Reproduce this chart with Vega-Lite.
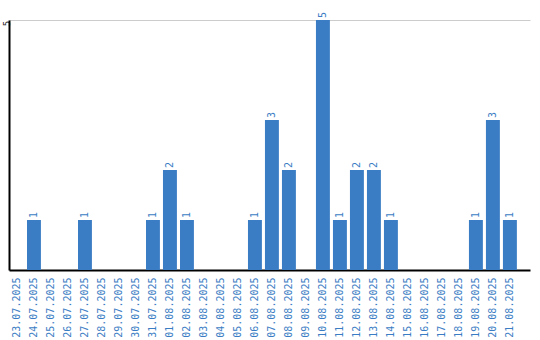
{
  "$schema": "https://vega.github.io/schema/vega-lite/v6.json",
  "width": 521,
  "height": 250,
  "autosize": "none",
  "padding": {"left": 9, "top": 20, "right": 10, "bottom": 70},
  "background": "white",
  "config": {"view": {"stroke": null}},
  "data": {"values": [
    {"d": "23.07.2025", "v": 0},
    {"d": "24.07.2025", "v": 1},
    {"d": "25.07.2025", "v": 0},
    {"d": "26.07.2025", "v": 0},
    {"d": "27.07.2025", "v": 1},
    {"d": "28.07.2025", "v": 0},
    {"d": "29.07.2025", "v": 0},
    {"d": "30.07.2025", "v": 0},
    {"d": "31.07.2025", "v": 1},
    {"d": "01.08.2025", "v": 2},
    {"d": "02.08.2025", "v": 1},
    {"d": "03.08.2025", "v": 0},
    {"d": "04.08.2025", "v": 0},
    {"d": "05.08.2025", "v": 0},
    {"d": "06.08.2025", "v": 1},
    {"d": "07.08.2025", "v": 3},
    {"d": "08.08.2025", "v": 2},
    {"d": "09.08.2025", "v": 0},
    {"d": "10.08.2025", "v": 5},
    {"d": "11.08.2025", "v": 1},
    {"d": "12.08.2025", "v": 2},
    {"d": "13.08.2025", "v": 2},
    {"d": "14.08.2025", "v": 1},
    {"d": "15.08.2025", "v": 0},
    {"d": "16.08.2025", "v": 0},
    {"d": "17.08.2025", "v": 0},
    {"d": "18.08.2025", "v": 0},
    {"d": "19.08.2025", "v": 1},
    {"d": "20.08.2025", "v": 3},
    {"d": "21.08.2025", "v": 1}
  ]},
  "encoding": {
    "x": {
      "field": "d", "type": "nominal", "sort": null,
      "scale": {"paddingInner": 0.18, "paddingOuter": 0.415, "align": 0.07},
      "axis": {
        "title": null, "labelAngle": -90, "labelAlign": "right", "labelBaseline": "middle",
        "labelFont": "DejaVu Sans Mono", "labelFontSize": 10, "labelColor": "#3b7dc4",
        "labelPadding": 7, "ticks": false, "domainColor": "#000000", "domainWidth": 2,
        "grid": false
      }
    },
    "y": {
      "field": "v", "type": "quantitative",
      "scale": {"domain": [0, 5], "nice": false},
      "axis": {
        "title": null, "values": [5], "labelAngle": -90, "labelAlign": "center", "labelBaseline": "middle",
        "labelFont": "DejaVu Sans Mono", "labelFontSize": 9, "labelColor": "#222222",
        "labelPadding": 3, "labelOffset": 3, "labelBound": false, "ticks": false, "domainColor": "#000000", "domainWidth": 2,
        "grid": true, "gridColor": "#cccccc", "gridWidth": 1
      }
    }
  },
  "layer": [
    {"mark": {"type": "bar", "color": "#3b7dc4"}},
    {
      "transform": [{"filter": "datum.v > 0"}],
      "mark": {"type": "text", "angle": 270, "align": "left", "baseline": "middle", "dx": 2,
               "font": "DejaVu Sans Mono", "fontSize": 10, "color": "#3b7dc4"},
      "encoding": {"text": {"field": "v", "type": "quantitative"}}
    }
  ]
}
